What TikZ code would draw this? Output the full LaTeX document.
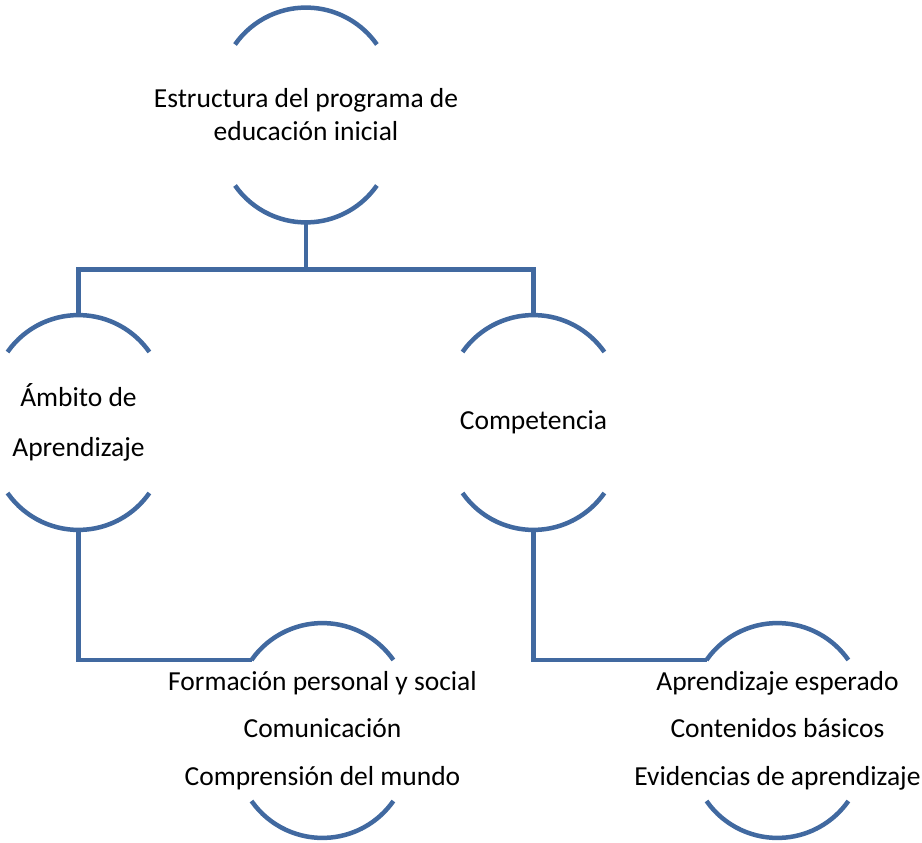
\documentclass[tikz,border=0pt]{standalone}
\usepackage{fontspec}
\setmainfont{Carlito}
\usepackage{tikz}

\definecolor{arcblue}{RGB}{65,105,160}

\tikzset{
  arcbox/.style={rectangle, minimum width=142pt, minimum height=141pt,
    inner sep=0pt, align=center, font=\fontsize{27.5}{33}\selectfont},
  arcline/.style={draw=arcblue, line width=4.5pt},
  conn/.style={draw=arcblue, line width=4.5pt},
}

\begin{document}
\begin{tikzpicture}[x=1pt, y=1pt]
    \useasboundingbox (0,0) rectangle (922,-843);

    \node[arcbox] (top)       at (306,-115)     {Estructura del programa de\\educación inicial};
    \node[arcbox] (ambito)    at (78.5,-422.5)  {Ámbito de\\[17pt]Aprendizaje};
    \node[arcbox] (comp)      at (533.5,-422.5) {Competencia};
    \node[arcbox] (formacion) at (322.5,-730.5) {Formación personal y social\\[14.5pt]Comunicación\\[14.5pt]Comprensión del mundo};
    \node[arcbox] (aprend)    at (777.5,-730.5) {Aprendizaje esperado\\[14.5pt]Contenidos básicos\\[14.5pt]Evidencias de aprendizaje};

    % arcs above and below each text
    \foreach \n in {top,ambito,comp,formacion,aprend}{
      \draw[arcline] ([shift={(-71,70.5)}]\n.center) arc[start angle=145, end angle=35, radius=86.6pt];
      \draw[arcline] ([shift={(-71,-70.5)}]\n.center) arc[start angle=215, end angle=325, radius=86.6pt];
    }

    \draw[conn] ([yshift=-107.5pt]top.center) -- ++(0,-47) -| ([yshift=107.5pt]ambito.center);
    \draw[conn] ([yshift=-107.5pt]top.center) ++(0,-47) -| ([yshift=107.5pt]comp.center);
    \draw[conn] ([yshift=-107.5pt]ambito.center) |- ([shift={(-71,70.5)}]formacion.center);
    \draw[conn] ([yshift=-107.5pt]comp.center) |- ([shift={(-71,70.5)}]aprend.center);
  \end{tikzpicture}
\end{document}
